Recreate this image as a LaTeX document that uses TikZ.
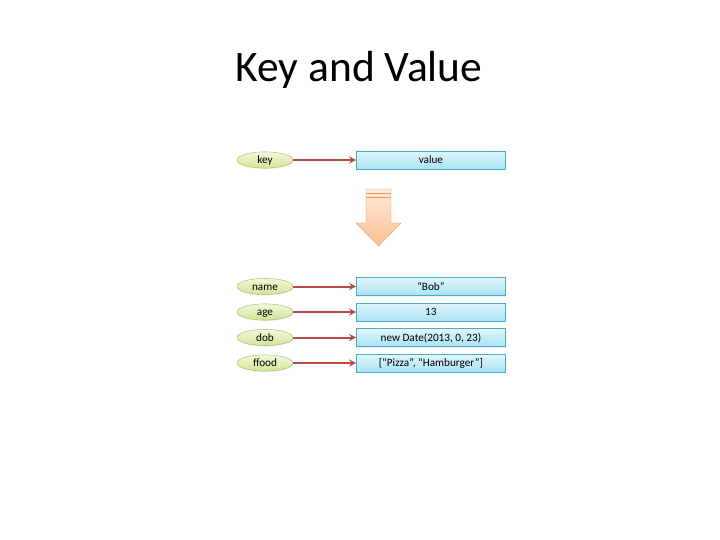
\documentclass[tikz,border=0pt]{standalone}
\usepackage{fontspec}
\setmainfont{Carlito}
\usetikzlibrary{positioning,arrows.meta,shadows,shapes.geometric}

\definecolor{keyline}{HTML}{9BBB59}
\definecolor{keytop}{HTML}{F2F9DC}
\definecolor{keybot}{HTML}{CFE596}
\definecolor{valline}{HTML}{4BACC6}
\definecolor{valtop}{HTML}{E2F6FC}
\definecolor{valbot}{HTML}{A8E2F2}
\definecolor{linkred}{HTML}{B84A45}
\definecolor{bigline}{HTML}{F39A5C}
\definecolor{bigtop}{HTML}{FDE9D9}
\definecolor{bigbot}{HTML}{FAC090}

\begin{document}
\begin{tikzpicture}[x=1pt,y=-1pt]
	\useasboundingbox (0,0) rectangle (720,540);
	\tikzset{keynode/.style={ellipse,draw=keyline,top color=keytop,bottom color=keybot,
		minimum width=56pt,minimum height=15pt,inner sep=0pt,text height=9.5pt,text depth=2pt,
		font=\fontsize{11.2}{12}\selectfont,
		drop shadow={opacity=0.12,shadow xshift=0.6pt,shadow yshift=-1pt}},
		valnode/.style={rectangle,draw=valline,top color=valtop,bottom color=valbot,
		minimum width=149pt,minimum height=18pt,inner sep=0pt,text height=10pt,text depth=2.5pt,
		font=\fontsize{11.2}{12}\selectfont,
		drop shadow={opacity=0.15,shadow xshift=0.6pt,shadow yshift=-1pt}},
		link/.style={draw=linkred,line width=2pt,-{Stealth[length=7pt,width=7pt]}}}

	\node[anchor=base,font=\fontsize{43.5}{48}\selectfont] (title) at (359,82) {Key and Value};

	%% Generic pair
	\node[keynode] (k0) at (265,160) {key};
	\node[valnode,right=63pt of k0] (v0) {value};
	\path[link] (k0) -- (v0);

	%% Big arrow
	\draw[bigline,top color=bigtop,bottom color=bigbot,line join=round]
		(366,189) -- (391,189) -- (391,223) -- (401,223) -- (378.5,246)
		-- (356,223) -- (366,223) -- cycle;
	\draw[bigline,line width=0.8pt] (366,193) -- (391,193) (366,197) -- (391,197);

	%% Concrete pairs
	\node[keynode] (k1) at (265,286.5) {name};
	\node[keynode] (k2) at (265,312) {age};
	\node[keynode] (k3) at (265,337.5) {dob};
	\node[keynode] (k4) at (265,363) {ffood};
	\node[valnode,right=63pt of k1] (v1) {“Bob”};
	\node[valnode,right=63pt of k2] (v2) {13};
	\node[valnode,right=63pt of k3] (v3) {new Date(2013, 0, 23)};
	\node[valnode,right=63pt of k4] (v4) {[“Pizza”, “Hamburger”]};
	\path[link] (k1) -- (v1);
	\path[link] (k2) -- (v2);
	\path[link] (k3) -- (v3);
	\path[link] (k4) -- (v4);
\end{tikzpicture}
\end{document}
